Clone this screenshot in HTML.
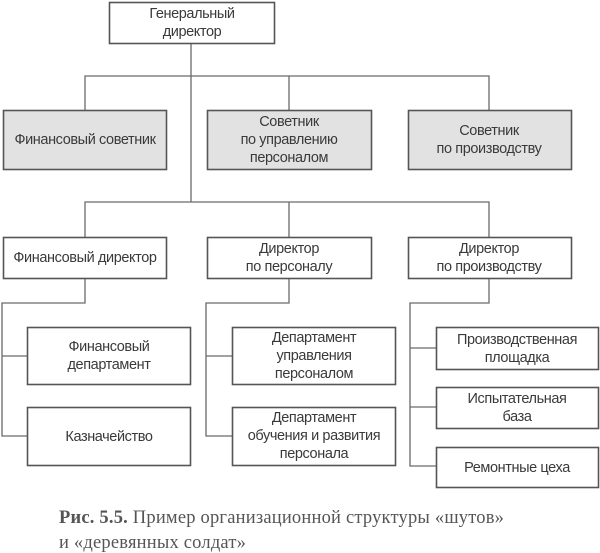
<!DOCTYPE html>
<html><head><meta charset="utf-8"><style>
html,body{margin:0;padding:0;background:#fff;}
svg{display:block;}
text{font-family:"Liberation Sans","DejaVu Sans",sans-serif;font-size:14.5px;fill:#3a3a3a;letter-spacing:-0.4px;}
.cap{font-family:"Liberation Serif","DejaVu Serif",serif;font-size:18.5px;fill:#555;letter-spacing:0.2px;}
</style></head><body>
<svg width="600" height="553" viewBox="0 0 600 553" xmlns="http://www.w3.org/2000/svg">
<g stroke="#6a6a6a" stroke-width="1.3" fill="none">
<path d="M191 43V202M85 110V76H489V110M289 76V110M85 237V202H489V237M289 202V237"/>
<path d="M85 278V303H2V436H27M2 356H27"/>
<path d="M289 278V303H206V436H232M206 356H232"/>
<path d="M489 278V303H410V466H436M410 348H436M410 407H436"/>
</g>
<g stroke="#555" stroke-width="1.6">
<rect x="109.5" y="2.5" width="165" height="41" fill="#fff"/>
<rect x="3.5" y="110.5" width="163" height="59" fill="#e2e2e2"/>
<rect x="207.5" y="110.5" width="164" height="59" fill="#e2e2e2"/>
<rect x="408.5" y="110.5" width="163" height="59" fill="#e2e2e2"/>
<rect x="3.5" y="237.5" width="163" height="41" fill="#fff"/>
<rect x="207.5" y="237.5" width="164" height="41" fill="#fff"/>
<rect x="408.5" y="237.5" width="163" height="41" fill="#fff"/>
<rect x="27.5" y="327.5" width="163" height="57" fill="#fff"/>
<rect x="27.5" y="407.5" width="163" height="58" fill="#fff"/>
<rect x="232.5" y="327.5" width="163" height="57" fill="#fff"/>
<rect x="232.5" y="407.5" width="163" height="58" fill="#fff"/>
<rect x="436.5" y="327.5" width="162" height="42" fill="#fff"/>
<rect x="436.5" y="387.5" width="162" height="41" fill="#fff"/>
<rect x="436.5" y="447.5" width="162" height="40" fill="#fff"/>
</g>
<g text-anchor="middle">
<text x="192" y="18">Генеральный</text><text x="192" y="36">директор</text>
<text x="85" y="144">Финансовый советник</text>
<text x="289" y="126">Советник</text><text x="289" y="144">по управлению</text><text x="289" y="162">персоналом</text>
<text x="489" y="135">Советник</text><text x="489" y="153">по производству</text>
<text x="85" y="262">Финансовый директор</text>
<text x="289" y="253">Директор</text><text x="289" y="271">по персоналу</text>
<text x="489" y="253">Директор</text><text x="489" y="271">по производству</text>
<text x="109" y="351">Финансовый</text><text x="109" y="369">департамент</text>
<text x="109" y="441">Казначейство</text>
<text x="314" y="342">Департамент</text><text x="314" y="360">управления</text><text x="314" y="378">персоналом</text>
<text x="314" y="422">Департамент</text><text x="314" y="440">обучения и развития</text><text x="314" y="458">персонала</text>
<text x="517" y="344">Производственная</text><text x="517" y="362">площадка</text>
<text x="517" y="403">Испытательная</text><text x="517" y="421">база</text>
<text x="517" y="472">Ремонтные цеха</text>
</g>
<text class="cap" x="59" y="523"><tspan font-weight="bold">Рис. 5.5.</tspan> Пример организационной структуры «шутов»</text>
<text class="cap" x="59" y="548">и «деревянных солдат»</text>
</svg>
</body></html>
